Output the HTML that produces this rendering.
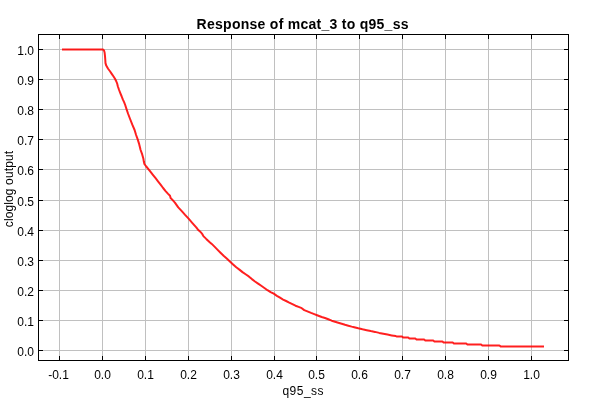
<!DOCTYPE html>
<html><head><meta charset="utf-8"><style>
html,body{margin:0;padding:0;background:#fff;width:600px;height:400px;overflow:hidden}
svg{display:block}
text{font-family:"Liberation Sans",Arial,sans-serif;font-size:12px;fill:#000}
</style></head><body>
<svg width="600" height="400" viewBox="0 0 600 400">
<rect width="600" height="400" fill="#fff"/>
<g stroke="#c0c0c0" stroke-width="1" shape-rendering="crispEdges">
<line x1="59.5" y1="35" x2="59.5" y2="360"/><line x1="102.5" y1="35" x2="102.5" y2="360"/><line x1="145.5" y1="35" x2="145.5" y2="360"/><line x1="188.5" y1="35" x2="188.5" y2="360"/><line x1="231.5" y1="35" x2="231.5" y2="360"/><line x1="274.5" y1="35" x2="274.5" y2="360"/><line x1="316.5" y1="35" x2="316.5" y2="360"/><line x1="359.5" y1="35" x2="359.5" y2="360"/><line x1="402.5" y1="35" x2="402.5" y2="360"/><line x1="445.5" y1="35" x2="445.5" y2="360"/><line x1="488.5" y1="35" x2="488.5" y2="360"/><line x1="531.5" y1="35" x2="531.5" y2="360"/><line x1="39" y1="350.5" x2="568" y2="350.5"/><line x1="39" y1="320.5" x2="568" y2="320.5"/><line x1="39" y1="290.5" x2="568" y2="290.5"/><line x1="39" y1="260.5" x2="568" y2="260.5"/><line x1="39" y1="230.5" x2="568" y2="230.5"/><line x1="39" y1="200.5" x2="568" y2="200.5"/><line x1="39" y1="169.5" x2="568" y2="169.5"/><line x1="39" y1="139.5" x2="568" y2="139.5"/><line x1="39" y1="109.5" x2="568" y2="109.5"/><line x1="39" y1="79.5" x2="568" y2="79.5"/><line x1="39" y1="49.5" x2="568" y2="49.5"/>
</g>
<polyline points="62,49.6 103.2,49.6 104,50.5 104.6,52.5 105,56 105.3,60 105.5,63.1 106.25,65.6 108.1,68.75 110,71.25 111.9,74.1 113.4,76.25 115,78.75 116.25,81.25 117.2,83.6 117.8,86.25 119.1,90 120.3,93.1 121.6,96.25 122.8,99.4 124.1,102.2 125.2,105 126.6,109.4 128.1,113.75 130,118.75 132.2,124.4 134.6,130 136.1,135 137.7,139.4 139.25,144.4 140.6,150 142.2,154.4 143.4,158.75 143.8,161.3 144.4,164 146.25,166.5 148.4,169.1 150.6,171.9 153.1,175.1 155.6,178.2 158,181.3 160.6,184.6 163.1,188 165.6,191.1 168.1,193.9 170,195.8 170.6,198 172.5,199.9 174.9,202.6 178.25,207.4 182,211.4 185.1,214.9 188.6,218.6 192.2,222.8 196.25,227.4 197.8,229.4 200,231.4 202.2,233.9 203.4,236.1 206.25,238.9 210,242.4 211.75,243.9 214.25,246.4 217.4,249.6 220.5,252.7 223.6,255.8 226.75,258.6 229.9,261.4 233.1,264.4 236.25,267.3 239.4,269.6 242.5,272.1 245.6,274.25 248.75,276.4 251.9,279.1 255,281.5 258.1,283.6 261.25,285.8 264.4,288 267.5,290.2 270.6,292.1 273.75,293.7 276.9,295.8 280,297.7 283.1,299.6 286.1,301 289.25,302.6 292.4,304.1 295.5,305.7 298.6,306.9 301.75,308.2 304.25,310.1 308,311.6 311.1,312.9 314.25,314.1 317.1,315.2 321.7,317 325,318 328.3,319.3 331.7,320.7 335,321.7 338.3,322.7 341.7,323.7 345,324.8 348.3,325.7 351.7,326.6 354.2,327.2 358.3,328.3 362.5,329.3 366.7,330.2 370.8,331.1 375,331.9 379.2,332.9 383.3,333.75 387.5,334.6 391.7,335.4 395.8,336.1 396.5,336.4 402,336.4 403.2,337.5 408.2,337.5 409.4,338.5 415.3,338.5 416.5,339.5 424.1,339.5 425.3,340.5 433.2,340.5 434.4,341.45 442.4,341.45 443.6,342.5 452.7,342.5 453.9,343.5 466.2,343.5 467.4,344.5 481.1,344.5 482.3,345.5 499.4,345.5 500.6,346.4 544,346.4" fill="none" stroke="#ff0000" stroke-opacity="0.88" stroke-width="2" stroke-linejoin="round" stroke-linecap="butt"/>
<g stroke="#000" stroke-width="1" shape-rendering="crispEdges" fill="none">
<rect x="38.5" y="34.5" width="530" height="326"/>
<path d="M59.5 35v4M59.5 360v-4M102.5 35v4M102.5 360v-4M145.5 35v4M145.5 360v-4M188.5 35v4M188.5 360v-4M231.5 35v4M231.5 360v-4M274.5 35v4M274.5 360v-4M316.5 35v4M316.5 360v-4M359.5 35v4M359.5 360v-4M402.5 35v4M402.5 360v-4M445.5 35v4M445.5 360v-4M488.5 35v4M488.5 360v-4M531.5 35v4M531.5 360v-4M39 350.5h4M568 350.5h-4M39 320.5h4M568 320.5h-4M39 290.5h4M568 290.5h-4M39 260.5h4M568 260.5h-4M39 230.5h4M568 230.5h-4M39 200.5h4M568 200.5h-4M39 169.5h4M568 169.5h-4M39 139.5h4M568 139.5h-4M39 109.5h4M568 109.5h-4M39 79.5h4M568 79.5h-4M39 49.5h4M568 49.5h-4"/>
</g>
<text x="302.7" y="29" text-anchor="middle" style="font-weight:bold;font-size:14px;letter-spacing:0.27px">Response of mcat_3 to q95_ss</text>
<text x="58.5" y="379" text-anchor="middle">-0.1</text><text x="102.5" y="379" text-anchor="middle">0.0</text><text x="145.5" y="379" text-anchor="middle">0.1</text><text x="188.5" y="379" text-anchor="middle">0.2</text><text x="231.5" y="379" text-anchor="middle">0.3</text><text x="274.5" y="379" text-anchor="middle">0.4</text><text x="316.5" y="379" text-anchor="middle">0.5</text><text x="359.5" y="379" text-anchor="middle">0.6</text><text x="402.5" y="379" text-anchor="middle">0.7</text><text x="445.5" y="379" text-anchor="middle">0.8</text><text x="488.5" y="379" text-anchor="middle">0.9</text><text x="531.5" y="379" text-anchor="middle">1.0</text><text x="34" y="356" text-anchor="end">0.0</text><text x="34" y="326" text-anchor="end">0.1</text><text x="34" y="296" text-anchor="end">0.2</text><text x="34" y="266" text-anchor="end">0.3</text><text x="34" y="236" text-anchor="end">0.4</text><text x="34" y="206" text-anchor="end">0.5</text><text x="34" y="175" text-anchor="end">0.6</text><text x="34" y="145" text-anchor="end">0.7</text><text x="34" y="115" text-anchor="end">0.8</text><text x="34" y="85" text-anchor="end">0.9</text><text x="34" y="55" text-anchor="end">1.0</text>
<text x="303.25" y="395" text-anchor="middle" style="letter-spacing:0.5px">q95_ss</text>
<text transform="translate(13,189) rotate(-90)" text-anchor="middle" style="letter-spacing:0.12px">cloglog output</text>
</svg>
</body></html>
